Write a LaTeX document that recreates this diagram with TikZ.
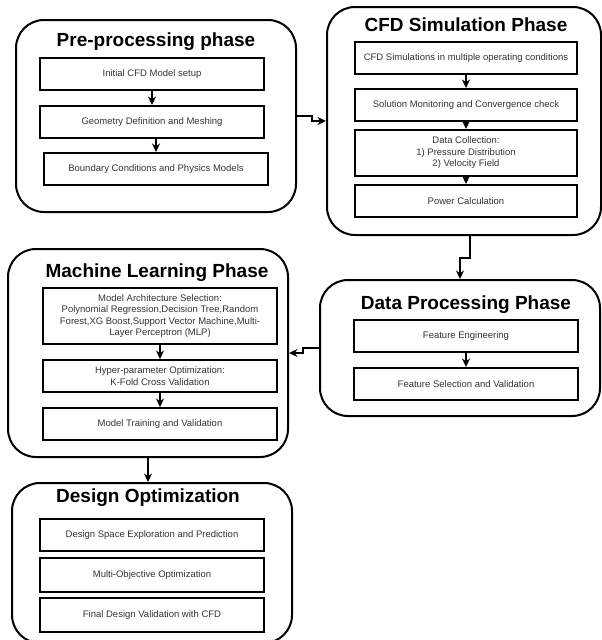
\documentclass[tikz,border=0pt]{standalone}
\usepackage{fontspec}
\setmainfont{Liberation Sans}
\usepackage{tikz}
\usetikzlibrary{arrows.meta}

\begin{document}
\begin{tikzpicture}[x=1pt,y=-1pt,
		phase/.style={draw,line width=2pt,rounded corners=28pt,inner sep=0pt},
		phasetitle/.style={font=\fontsize{19}{22}\selectfont\bfseries},
		stepbox/.style={draw,line width=2pt,inner sep=2pt,align=center,text=black!80,
			font=\fontsize{9.5}{11.5}\selectfont},
		flow/.style={line width=2pt,-{Stealth[length=8.5pt,width=8pt]}}]
		\useasboundingbox (0,0) rectangle (602,640);

		\node[phase,minimum width=280pt,minimum height=192pt] (pre) at (156,116) {};
		\node[phasetitle] (pret) at (156,42) {Pre-processing phase};
		\node[stepbox,minimum width=224pt,minimum height=32pt] (pre1) at (152,74) {Initial CFD Model setup};
		\node[stepbox,minimum width=224pt,minimum height=32pt] (pre2) at (152,122) {Geometry Definition and Meshing};
		\node[stepbox,minimum width=224pt,minimum height=32pt] (pre3) at (156,169) {Boundary Conditions and Physics Models};

		\node[phase,minimum width=274pt,minimum height=228pt] (cfd) at (464,121) {};
		\node[phasetitle] (cfdt) at (466,25) {CFD Simulation Phase};
		\node[stepbox,minimum width=222pt,minimum height=32pt] (cfd1) at (466,58) {CFD Simulations in multiple operating conditions};
		\node[stepbox,minimum width=222pt,minimum height=32pt] (cfd2) at (466,105) {Solution Monitoring and Convergence check};
		\node[stepbox,minimum width=222pt,minimum height=46pt] (cfd3) at (466,153) {Data Collection:\\1) Pressure Distribution\\2) Velocity Field};
		\node[stepbox,minimum width=222pt,minimum height=32pt] (cfd4) at (466,201) {Power Calculation};

		\node[phase,minimum width=280pt,minimum height=136pt] (dp) at (460,348) {};
		\node[phasetitle] (dpt) at (466,305) {Data Processing Phase};
		\node[stepbox,minimum width=224pt,minimum height=32pt] (dp1) at (466,336) {Feature Engineering};
		\node[stepbox,minimum width=224pt,minimum height=32pt] (dp2) at (466,384) {Feature Selection and Validation};

		\node[phase,minimum width=280pt,minimum height=208pt] (ml) at (148,353) {};
		\node[phasetitle] (mlt) at (157,273) {Machine Learning Phase};
		\node[stepbox,minimum width=234pt,minimum height=56pt] (ml1) at (160,316) {Model Architecture Selection:\\Polynomial Regression,Decision Tree,Random\\Forest,XG Boost,Support Vector Machine,Multi-\\Layer Perceptron (MLP)};
		\node[stepbox,minimum width=234pt,minimum height=32pt] (ml2) at (160,376) {Hyper-parameter Optimization:\\K-Fold Cross Validation};
		\node[stepbox,minimum width=234pt,minimum height=32pt] (ml3) at (160,424) {Model Training and Validation};

		\node[phase,minimum width=280pt,minimum height=160pt] (de) at (152,563) {};
		\node[phasetitle] (det) at (148,498) {Design Optimization};
		\node[stepbox,minimum width=224pt,minimum height=32pt] (de1) at (152,535) {Design Space Exploration and Prediction};
		\node[stepbox,minimum width=224pt,minimum height=34pt] (de2) at (152,575) {Multi-Objective Optimization};
		\node[stepbox,minimum width=224pt,minimum height=34pt] (de3) at (152,615) {Final Design Validation with CFD};

		\draw[flow] (pre1.south) -- (pre2.north);
		\draw[flow] (pre3.north |- pre2.south) -- (pre3.north);
		\draw[flow] (cfd1.south) -- (cfd2.north);
		\draw[flow] (cfd2.south) -- (cfd3.north);
		\draw[flow] (cfd3.south) -- (cfd4.north);
		\draw[flow] (dp1.south) -- (dp2.north);
		\draw[flow] (ml1.south) -- (ml2.north);
		\draw[flow] (ml2.south) -- (ml3.north);

		\coordinate (cfdout) at (470,235);
		\draw[flow] (pre.east) -- ++(15,0) |- (cfd.west);
		\draw[flow] (cfdout) -- ++(0,23) -| (dp.north);
		\draw[flow] (dp.west) -- ++(-16,0) |- (ml.east);
		\draw[flow] (ml.south) -- (ml.south |- de.north);
	\end{tikzpicture}
\end{document}
